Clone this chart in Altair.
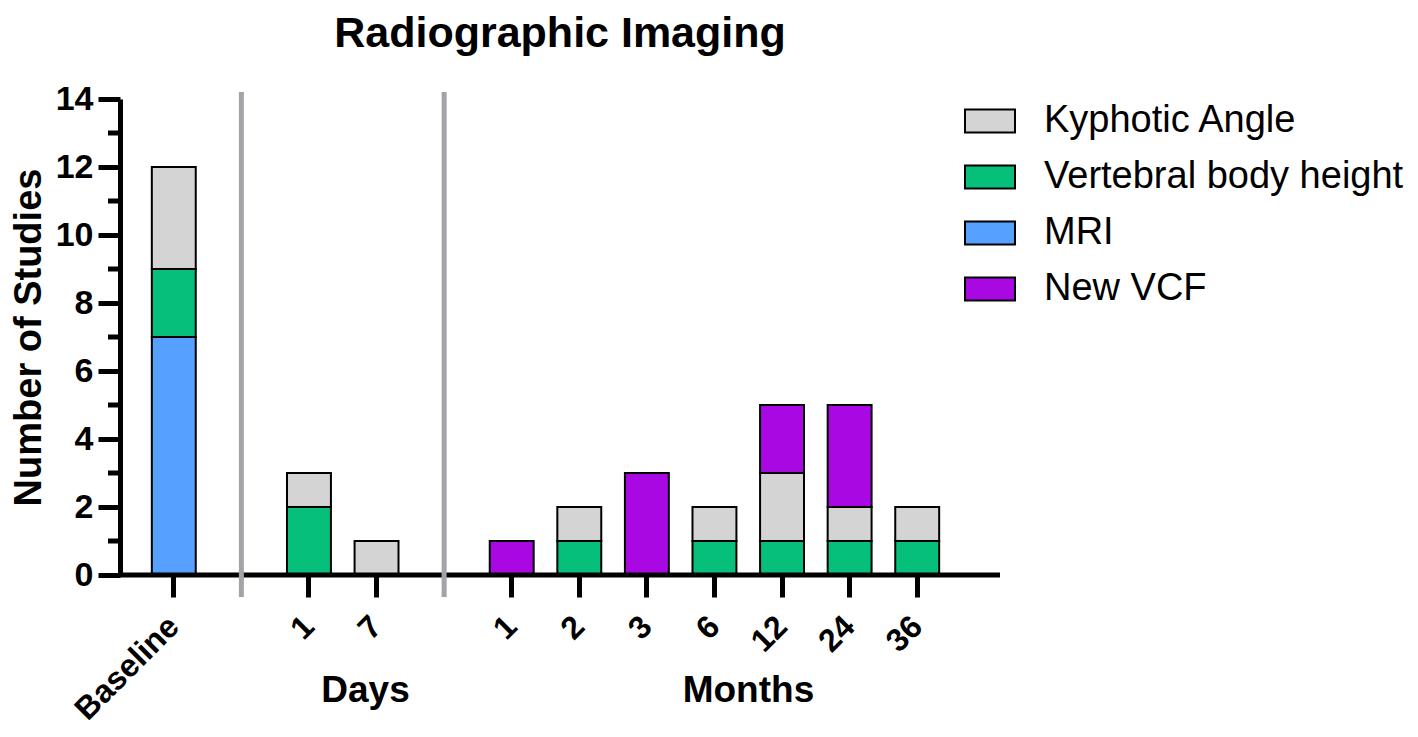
import altair as alt
import pandas as pd

# ---- data ----
categories = ["Baseline", "D|1", "D|7", "M|1", "M|2", "M|3", "M|6", "M|12", "M|24", "M|36"]
kyphotic_angle = [3, 1, 1, 0, 1, 0, 1, 2, 1, 1]
vertebral_body_height = [2, 2, 0, 0, 1, 0, 1, 1, 1, 1]
mri = [7, 0, 0, 0, 0, 0, 0, 0, 0, 0]
new_vcf = [0, 0, 0, 1, 0, 3, 0, 2, 3, 0]

series_names = ["Kyphotic Angle", "Vertebral body height", "MRI", "New VCF"]
series_colors = ["#D4D4D4", "#05BF7A", "#56A0FF", "#AA08E2"]
stack_order = ["MRI", "Vertebral body height", "Kyphotic Angle", "New VCF"]

# slot order on the x axis (gaps hold the separators)
slots = ["Baseline", "gap1", "D|1", "D|7", "gap2", "M|1", "M|2", "M|3", "M|6", "M|12", "M|24", "M|36"]
gaps = ["gap1", "gap2"]
y_major = [0, 2, 4, 6, 8, 10, 12, 14]
y_minor = [1, 3, 5, 7, 9, 11, 13]
chart_title = "Radiographic Imaging"

values = {
    "Kyphotic Angle": kyphotic_angle,
    "Vertebral body height": vertebral_body_height,
    "MRI": mri,
    "New VCF": new_vcf,
}
rows = []
for s, vals in values.items():
    for c, v in zip(categories, vals):
        if v > 0:
            rows.append({"slot": c, "series": s, "count": v, "stack": stack_order.index(s)})
df = pd.DataFrame(rows)

FONT = "Liberation Sans"
W, H = 880, 476

xscale = alt.Scale(domain=slots, range=[20, 831], paddingInner=0.35, paddingOuter=0.175)
xaxis = alt.Axis(
    values=categories,
    title=None,
    domain=False,
    ticks=True,
    tickSize=22,
    tickWidth=5,
    tickColor="black",
    labelAngle=-45,
    labelAlign="right",
    labelBaseline="middle",
    labelPadding=24,
    labelFont=FONT,
    labelFontSize=32,
    labelFontWeight="bold",
    labelColor="black",
    labelExpr="indexof(datum.label, '|') >= 0 ? split(datum.label, '|')[1] : datum.label",
    grid=False,
)
yscale = alt.Scale(domain=[0, 14], nice=False, zero=True)
yaxis = alt.Axis(
    values=y_major,
    title="Number of Studies",
    titleFont=FONT,
    titleFontSize=38,
    titleFontWeight="bold",
    titleColor="black",
    titleAngle=-90,
    titleAlign="center",
    titleBaseline="alphabetic",
    titleX=-80,
    titleY=H / 2,
    domain=True,
    domainWidth=5,
    domainColor="black",
    tickSize=22,
    tickWidth=5,
    tickColor="black",
    labelPadding=5,
    labelFont=FONT,
    labelFontSize=34,
    labelFontWeight="bold",
    labelColor="black",
    grid=False,
)

xenc = alt.X("slot:N", scale=xscale, axis=xaxis, sort=slots)

bars = alt.Chart(df).mark_bar(stroke="black", strokeWidth=2).encode(
    x=xenc,
    y=alt.Y("count:Q", stack="zero", scale=yscale, axis=yaxis),
    color=alt.Color(
        "series:N",
        scale=alt.Scale(domain=series_names, range=series_colors),
        legend=alt.Legend(
            title=None,
            orient="none",
            legendX=844,
            legendY=-4,
            padding=0,
            symbolType="M-1,-0.46L1,-0.46L1,0.46L-1,0.46Z",
            symbolSize=2500,
            symbolStrokeColor="black",
            symbolStrokeWidth=2,
            symbolOpacity=1,
            labelFont=FONT,
            labelFontSize=38,
            labelColor="black",
            labelOffset=28,
            rowPadding=11,
            labelLimit=600,
        ),
    ),
    order=alt.Order("stack:Q", sort="ascending"),
)

minor = alt.Chart(pd.DataFrame({"v": y_minor})).mark_rule(color="black", strokeWidth=5).encode(
    y=alt.Y("v:Q", scale=yscale, axis=yaxis),
    x=alt.value(-12),
    x2=alt.value(0),
)

xline = alt.Chart(pd.DataFrame({"v": [0]})).mark_rule(color="black", strokeWidth=5).encode(
    y=alt.Y("v:Q", scale=yscale, axis=yaxis),
    x=alt.value(0),
    x2=alt.value(W),
)

seps = alt.Chart(pd.DataFrame({"slot": gaps})).mark_rule(color="#A3A3A8", strokeWidth=5).encode(
    x=xenc,
    y=alt.value(-7),
    y2=alt.value(H + 22),
)

days = alt.Chart(pd.DataFrame({"slot": ["D|7"], "t": ["Days"]})).mark_text(
    font=FONT, fontSize=37, fontWeight="bold", color="black", baseline="alphabetic", align="center", dx=-11
).encode(x=xenc, y=alt.value(603), text="t:N")

months = alt.Chart(pd.DataFrame({"slot": ["M|6"], "t": ["Months"]})).mark_text(
    font=FONT, fontSize=37, fontWeight="bold", color="black", baseline="alphabetic", align="center", dx=34
).encode(x=xenc, y=alt.value(603), text="t:N")

title = alt.Chart(pd.DataFrame({"t": [chart_title]})).mark_text(
    font=FONT, fontSize=43, fontWeight="bold", color="black", baseline="alphabetic", align="center"
).encode(x=alt.value(W / 2), y=alt.value(-52), text="t:N")

chart = alt.layer(bars, minor, xline, seps, days, months, title).properties(
    width=W,
    height=H,
    background="white",
    autosize=alt.AutoSizeParams(type="none"),
    padding={"left": 112, "top": 91, "right": 410, "bottom": 154},
).configure_view(stroke=None)

chart.save("out.html", embed_options={"renderer": "svg", "actions": False})
